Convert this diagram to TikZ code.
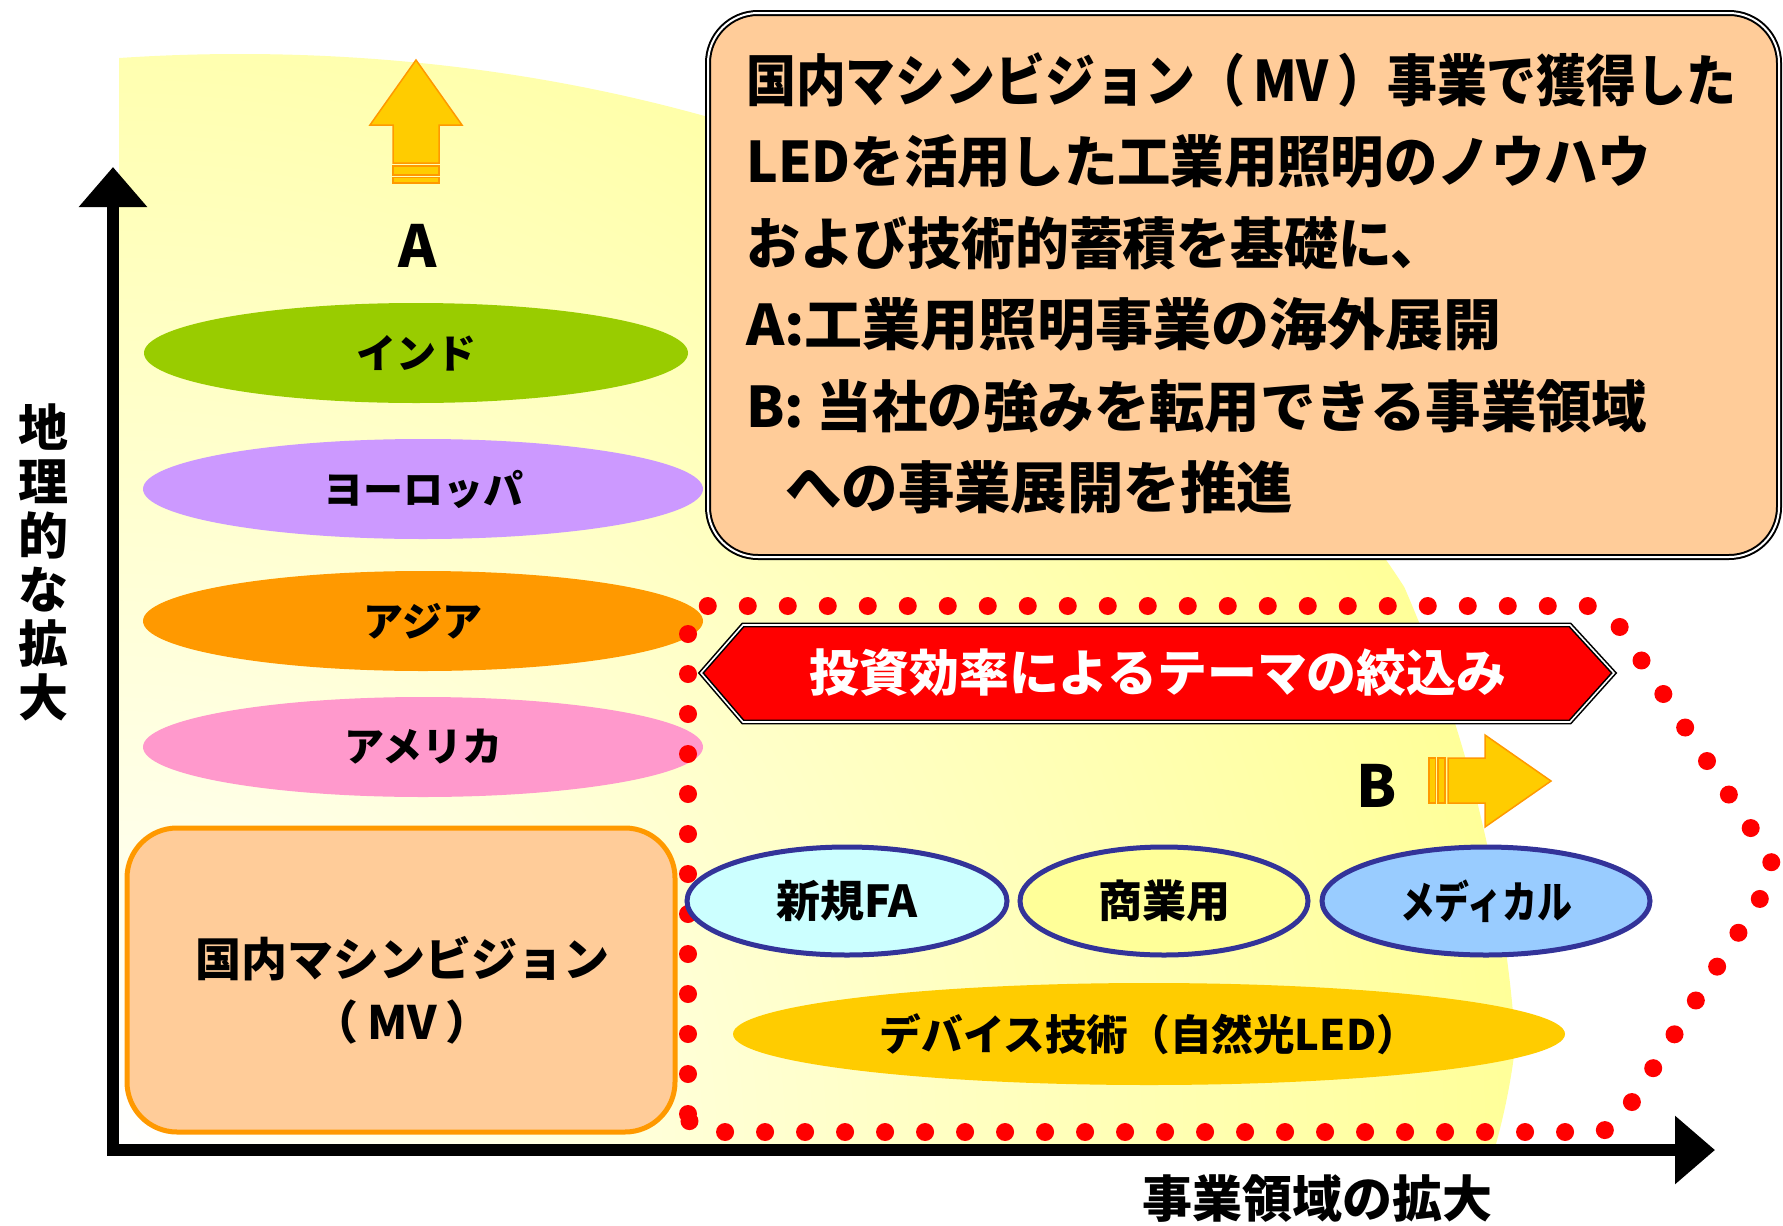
\documentclass[tikz,border=0pt]{standalone}
\usepackage{fontspec}
\IfFontExistsTF{Noto Sans CJK JP Black}
  {\setmainfont{Noto Sans CJK JP}[BoldFont={Noto Sans CJK JP Black}]}
  {\setmainfont{Noto Sans CJK JP}}
\usetikzlibrary{shapes.geometric,arrows.meta}
\definecolor{bgyellow}{HTML}{FFFF99}
\definecolor{peach}{HTML}{FFCC99}
\definecolor{indiag}{HTML}{99CC00}
\definecolor{europev}{HTML}{CC99FF}
\definecolor{asiao}{HTML}{FF9900}
\definecolor{americap}{HTML}{FF99CC}
\definecolor{arrowfill}{HTML}{FFCC00}
\definecolor{arrowline}{HTML}{FF9900}
\definecolor{fabg}{HTML}{CCFFFF}
\definecolor{combg}{HTML}{FFFF99}
\definecolor{medbg}{HTML}{99CCFF}
\definecolor{navyline}{HTML}{333399}
\definecolor{ledbg}{HTML}{FFCC00}
\definecolor{bannerred}{HTML}{FF0000}
\newcommand{\fitw}[2]{\resizebox{#1pt}{\height}{#2}}
\begin{document}
\begin{tikzpicture}[x=1pt,y=-1pt,
  txt/.style={inner sep=0pt, font=\fontsize{#1}{#1}\selectfont\bfseries},
  maintext/.style={txt=56, anchor=west},
  region/.style={ellipse, inner sep=0pt, minimum width=560pt, minimum height=100pt, fill=#1, txt=40},
  theme/.style={ellipse, inner sep=0pt, minimum height=108pt, fill=#1, draw=navyline, line width=5pt, txt=44},
  blockarrow/.style={fill=arrowfill, draw=arrowline, line width=1.5pt, line join=miter},
  axis/.style={line width=12pt, line join=miter, {Triangle[length=40pt,width=66pt]}-{Triangle[length=40pt,width=66pt]}},
  dotline/.style={draw=bannerred, line width=18pt, line cap=round, dash pattern=on 0pt off 40pt, rounded corners=18pt},
]
\useasboundingbox (0,0) rectangle (1783,1226);
\fill[white] (0,0) rectangle (1783,1226);

% yellow background
\begin{scope}
  \clip (119,0) rectangle (1783,1143);
  \clip (240,967) ellipse [x radius=1280, y radius=913];
  \shade[inner color=white, outer color=bgyellow] (119,1143) circle [radius=1400];
\end{scope}

% top explanation box
\draw[fill=peach, draw=black, line width=2pt, double=white, double distance=2pt, rounded corners=50pt]
  (708,13) rectangle (1779,557);
\node[maintext] (l1) at (746,80) {\fitw{990}{国内マシンビジョン（\,MV\,）事業で獲得した}};
\node[maintext] (l2) at (746,161.5) {\fitw{905}{LEDを活用した工業用照明のノウハウ}};
\node[maintext] (l3) at (746,243) {\fitw{698}{および技術的蓄積を基礎に、}};
\node[maintext] (l4) at (746,324.5) {\fitw{755}{A:工業用照明事業の海外展開}};
\node[maintext] (l5) at (746,406) {\fitw{901}{B: 当社の強みを転用できる事業領域}};
\node[maintext] (l6) at (785,487.5) {\fitw{508}{への事業展開を推進}};

% up arrow A
\draw[blockarrow] (416,60) -- (462,125) -- (439,125) -- (439,163) -- (393,163) -- (393,125) -- (370,125) -- cycle;
\draw[blockarrow, line width=1.2pt] (393,166) rectangle (439,175);
\draw[blockarrow, line width=1.2pt] (393,177.5) rectangle (439,183);
\node[txt=58] (A) at (418,246) {A};

% regions
\node[region=indiag, minimum width=544pt] (india) at (416,353) {インド};
\node[region=europev] (europe) at (423,489) {ヨーロッパ};
\node[region=asiao] (asia) at (423,621) {アジア};
\node[region=americap] (america) at (423,747) {アメリカ};

% MV box
\node[draw=arrowline, line width=5pt, fill=peach, rounded corners=50pt, minimum width=548pt, minimum height=304pt] (mvbox) at (401,980) {};
\node[align=center, inner sep=0pt, font=\fontsize{46}{63}\selectfont\bfseries] (mvtext) at (402,990) {国内マシンビジョン\\（\hspace{9pt}MV\hspace{9pt}）};

% dotted boundary
\coordinate (d1) at (688,606);
\coordinate (d2) at (1606,606);
\coordinate (d3) at (1778,870);
\coordinate (d4) at (1613,1132);
\coordinate (d5) at (688,1132);
\draw[dotline] (d5) -- (d1) -- (d2) -- (d3) -- (d4) -- cycle;

% banner
\draw[fill=bannerred, draw=black, line width=1.6pt, double=white, double distance=1.6pt, line join=miter]
  (701,673) -- (743,625) -- (1570,625) -- (1614,673) -- (1570,722) -- (743,722) -- cycle;
\node[txt=50, text=white] (banner) at (1158,673) {\fitw{697}{投資効率によるテーマの絞込み}};

% B arrow
\node[txt=58] (B) at (1377,786) {B};
\draw[blockarrow, line width=1.2pt] (1429,758) rectangle (1435.5,803);
\draw[blockarrow, line width=1.2pt] (1438,758) rectangle (1445,803);
\draw[blockarrow] (1448,758) -- (1485,758) -- (1485,735) -- (1551,781) -- (1485,827) -- (1485,803) -- (1448,803) -- cycle;

% themes
\node[theme=fabg, minimum width=320pt] (fa) at (847,901) {新規FA};
\node[theme=combg, minimum width=288pt] (com) at (1164,901) {商業用};
\node[theme=medbg, minimum width=328pt] (med) at (1486,901) {\fitw{172}{メディカル}};
\node[ellipse, inner sep=0pt, minimum width=832pt, minimum height=102pt, fill=ledbg, txt=42] (led) at (1149,1034) {\fitw{538}{デバイス技術（自然光LED）}};

% axes
\coordinate (ytip) at (113,167);
\coordinate (origin) at (113,1150);
\coordinate (xtip) at (1715,1150);
\draw[axis] (ytip) -- (origin) -- (xtip);
\node[align=center, inner sep=0pt, font=\fontsize{50}{54}\selectfont\bfseries] (ylabel) at (43,562) {地\\理\\的\\な\\拡\\大};
\node[txt=50] (xlabel) at (1317,1199) {事業領域の拡大};
\end{tikzpicture}
\end{document}
